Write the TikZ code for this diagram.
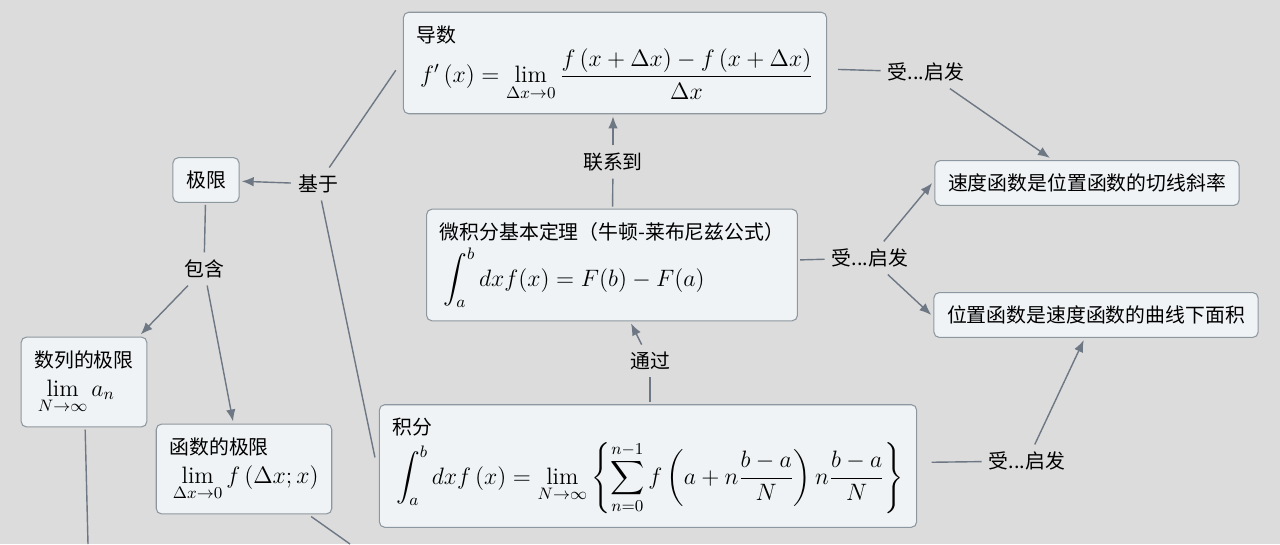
\RequirePackage{fix-cm}
\documentclass[tikz,border=0pt]{standalone}
\usepackage{amsmath,amssymb}
\usepackage{fontspec}
\newfontfamily\cjk{Noto Sans CJK SC}
\usetikzlibrary{arrows.meta, positioning}

\definecolor{paper}{HTML}{DCDCDC}
\definecolor{boxfill}{HTML}{EFF3F5}
\definecolor{boxline}{HTML}{8D97A0}
\definecolor{linkc}{HTML}{6E7884}

\newcommand{\zh}[1]{{\cjk\fontsize{11.3}{14}\selectfont #1}}

\begin{document}
\begin{tikzpicture}[
        x=0.02cm, y=-0.02cm,
        box/.style={draw=boxline, fill=boxfill, line width=0.6pt, rounded corners=3pt,
            align=left, inner sep=7.5pt, outer sep=1.5pt, font=\fontsize{13.5}{15.5}\selectfont},
        tag/.style={inner sep=4pt, font=\cjk\fontsize{11.3}{14}\selectfont},
        link/.style={draw=linkc, line width=0.8pt},
        flow/.style={link, -{Latex[length=2.4mm, width=1.9mm]}}
    ]
    \useasboundingbox[fill=paper] (0,0) rectangle (1280,544);

    % Nodes
    \node[box] (daoshu) at (615,63) {\zh{导数}\\[2pt]
        \hspace{2pt}$\displaystyle f'\left(x\right)=\lim_{\Delta x\to 0}\frac{f\left(x+\Delta x\right)-f\left(x+\Delta x\right)}{\Delta x}$};
    \node[box] (jixian) at (206,180) {\zh{极限}};
    \node[box] (shulie) at (84,382) {\zh{数列的极限}\\[1pt]
        \hspace{2pt}$\displaystyle\lim_{N\to\infty} a_n$};
    \node[box] (hanshu) at (244,469) {\zh{函数的极限}\\[1pt]
        \hspace{2pt}$\displaystyle\lim_{\Delta x\to 0} f\left(\Delta x;x\right)$};
    \node[box] (weiji) at (612,265) {\zh{微积分基本定理（牛顿-莱布尼兹公式）}\\[3pt]
        \hspace{2pt}$\displaystyle\int_a^b dxf(x)=F(b)-F(a)$};
    \node[box] (jifen) at (648,466) {\zh{积分}\\[2pt]
        \hspace{2pt}$\displaystyle\int_a^b dxf\left(x\right)=\lim_{N\to\infty}\left\{\sum_{n=0}^{n-1}f\left(a+n\frac{b-a}{N}\right)n\frac{b-a}{N}\right\}$};
    \node[box] (sudu) at (1087,183) {\zh{速度函数是位置函数的切线斜率}};
    \node[box] (weizhi) at (1096,315) {\zh{位置函数是速度函数的曲线下面积}};

    % Link labels
    \node[tag] (jiyu) at (318,184) {基于};
    \node[tag] (baohan) at (204,269) {包含};
    \node[tag] (lianxi) at (613,162) {联系到};
    \node[tag] (tongguo) at (650,361) {通过};
    \node[tag] (shou1) at (926,72) {受...启发};
    \node[tag] (shou2) at (870,258) {受...启发};
    \node[tag] (shou3) at (1027,461) {受...启发};

    % Loose ends
    \coordinate (offA) at (88,544);
    \coordinate (offB) at (350,544);

    % Edges
    \draw[link, shorten <=5pt] (daoshu.west) -- (jiyu);
    \draw[link, shorten <=5pt] (jifen.west) -- (jiyu);
    \draw[flow] (jiyu) -- (jixian);
    \draw[link] (jixian) -- (baohan);
    \draw[flow] (baohan) -- (shulie.40);
    \draw[flow] (baohan) -- (hanshu.103);
    \draw[link] (shulie) -- (offA);
    \draw[link] (hanshu) -- (offB);
    \draw[link] (weiji) -- (lianxi);
    \draw[flow] (lianxi) -- (lianxi |- daoshu.south);
    \draw[link] (jifen.north -| tongguo) -- (tongguo);
    \draw[flow] (tongguo) -- (weiji.-72);
    \draw[link, shorten <=5pt] (daoshu) -- (shou1);
    \draw[flow] (shou1) -- (sudu.146);
    \draw[link] (weiji) -- (shou2);
    \draw[flow] (shou2) -- (sudu.west);
    \draw[flow] (shou2) -- (weizhi.west);
    \draw[link, shorten <=7pt] (jifen) -- (shou3);
    \draw[flow] (shou3) -- (weizhi.-116);
\end{tikzpicture}
\end{document}
